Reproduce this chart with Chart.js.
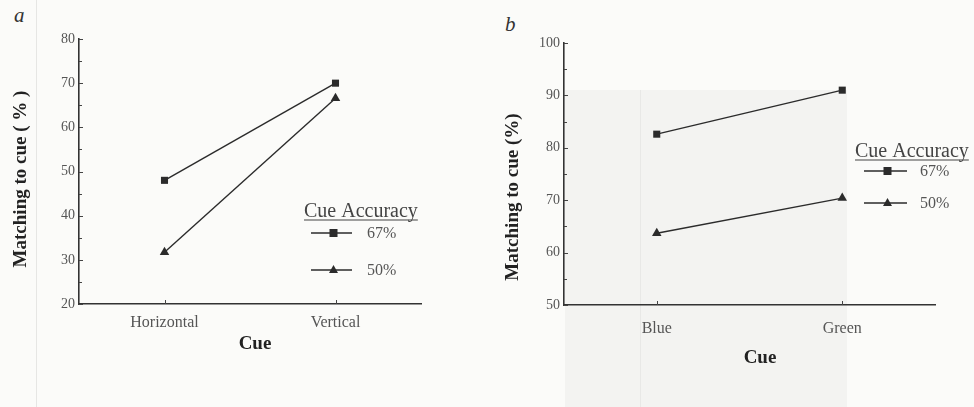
<!DOCTYPE html>
<html>
<head>
<meta charset="utf-8">
<script src="https://cdn.jsdelivr.net/npm/chart.js@4"></script>
<style>
  body { margin: 0; background: #fbfbf9; }
  #wrap { position: relative; width: 974px; height: 407px; overflow: hidden; }
  canvas { position: absolute; top: 0; }
  #ca { left: 0; }
  #cb { left: 490px; }
  .tag { position: absolute; font: italic 21px 'Liberation Serif', serif; color: #333; }
  .shade { position: absolute; background: #f3f3f1; }
</style>
</head>
<body>
<div id="wrap">
  <div class="shade" style="left:36px;top:0;width:1px;height:407px;background:#e6e6e4"></div>
  <div class="shade" style="left:565px;top:90px;width:282px;height:317px"></div>
  <div class="shade" style="left:640px;top:90px;width:1px;height:317px;background:#e8e8e6"></div>
  <div class="tag" style="left:14px;top:3px">a</div>
  <div class="tag" style="left:505px;top:12px">b</div>
  <canvas id="ca" width="480" height="407"></canvas>
  <canvas id="cb" width="484" height="407"></canvas>
</div>
<script>
// panel a
const cuesA = ['Horizontal', 'Vertical'];
const acc67A = [48, 70];
const acc50A = [31.7, 66.6];
// panel b
const cuesB = ['Blue', 'Green'];
const acc67B = [82.6, 91];
const acc50B = [63.7, 70.4];

const seriesNames = ['67%', '50%'];
const legendTitle = 'Cue Accuracy';

const ink = '#2b2b2b';
const serif = "'Liberation Serif', 'Times New Roman', serif";

// inward tick marks + axis titles placed like the printed figure
const axisDeco = {
  id: 'axisDeco',
  afterDraw(chart, args, opts) {
    const ctx = chart.ctx;
    const { x, y } = chart.scales;
    ctx.save();
    ctx.strokeStyle = '#444';
    ctx.lineWidth = 1;
    y.ticks.forEach(t => {
      const py = Math.round(y.getPixelForValue(t.value)) + 0.5;
      const len = t.value % 10 === 0 ? 4 : 3;
      ctx.beginPath();
      ctx.moveTo(y.right, py);
      ctx.lineTo(y.right + len, py);
      ctx.stroke();
    });
    x.ticks.forEach((t, i) => {
      const px = Math.round(x.getPixelForTick(i)) + 0.5;
      ctx.beginPath();
      ctx.moveTo(px, x.top);
      ctx.lineTo(px, x.top - 4);
      ctx.stroke();
    });
    ctx.fillStyle = '#222';
    ctx.font = 'bold 19px ' + serif;
    ctx.textAlign = 'center';
    ctx.textBaseline = 'middle';
    ctx.fillText('Cue', opts.xTitle[0], opts.xTitle[1]);
    ctx.translate(opts.yTitle[0], opts.yTitle[1]);
    ctx.rotate(-Math.PI / 2);
    ctx.fillText(opts.yText, 0, 0);
    ctx.restore();
  }
};

// legend drawn inside the plot, old-journal style
const cueLegend = {
  id: 'cueLegend',
  afterDraw(chart, args, opts) {
    const ctx = chart.ctx;
    ctx.save();
    ctx.fillStyle = '#444';
    ctx.font = '20px ' + serif;
    ctx.textBaseline = 'alphabetic';
    ctx.fillText(legendTitle, opts.x, opts.titleY);
    const w = ctx.measureText(legendTitle).width;
    ctx.strokeStyle = '#444';
    ctx.lineWidth = 1.2;
    ctx.beginPath();
    ctx.moveTo(opts.x, opts.titleY + 3);
    ctx.lineTo(opts.x + w, opts.titleY + 3);
    ctx.stroke();
    chart.data.datasets.forEach((ds, i) => {
      const y = opts.rows[i];
      ctx.strokeStyle = ink;
      ctx.lineWidth = 1.4;
      ctx.beginPath();
      ctx.moveTo(opts.lineX0, y);
      ctx.lineTo(opts.lineX1, y);
      ctx.stroke();
      const mx = (opts.lineX0 + opts.lineX1) / 2 + 2;
      ctx.fillStyle = ink;
      if (ds.pointStyle === 'rect') {
        ctx.fillRect(mx - 4, y - 4, 8, 8);
      } else {
        ctx.beginPath();
        ctx.moveTo(mx, y - 5);
        ctx.lineTo(mx + 4.5, y + 3);
        ctx.lineTo(mx - 4.5, y + 3);
        ctx.closePath();
        ctx.fill();
      }
      ctx.fillStyle = '#555';
      ctx.font = '16px ' + serif;
      ctx.textBaseline = 'middle';
      ctx.fillText(ds.label, opts.textX, y + 1);
      ctx.textBaseline = 'alphabetic';
    });
    ctx.restore();
  }
};

function makePanel(id, cues, s67, s50, cfg) {
  return new Chart(document.getElementById(id), {
    type: 'line',
    data: {
      labels: cues,
      datasets: [
        { label: seriesNames[0], data: s67, pointStyle: 'rect', pointRadius: 5 },
        { label: seriesNames[1], data: s50, pointStyle: 'triangle', pointRadius: 5.5 }
      ]
    },
    options: {
      responsive: false,
      animation: false,
      layout: { padding: { top: cfg.top, right: cfg.right, left: 0, bottom: 0 } },
      elements: {
        line: { borderColor: ink, borderWidth: 1.4, tension: 0 },
        point: { backgroundColor: ink, borderColor: ink, borderWidth: 0 }
      },
      plugins: {
        legend: { display: false },
        tooltip: { enabled: false },
        cueLegend: cfg.legend,
        axisDeco: { xTitle: cfg.xTitle, yTitle: cfg.yTitle, yText: cfg.yText }
      },
      scales: {
        x: {
          offset: true,
          afterFit: s => { s.height = cfg.xHeight; },
          grid: { display: true, drawOnChartArea: false, drawTicks: false, offset: false },
          border: { display: true, color: '#333', width: 1.6 },
          ticks: { color: '#555', font: { family: serif, size: 16 }, padding: cfg.xTickPad }
        },
        y: {
          min: cfg.min, max: cfg.max,
          afterFit: s => { s.width = cfg.yWidth; },
          grid: { display: true, drawOnChartArea: false, drawTicks: false },
          border: { display: true, color: '#333', width: 1.6 },
          ticks: {
            stepSize: 5, color: '#555', padding: 4,
            font: { family: serif, size: 14 },
            callback: v => (v % 10 === 0 ? v : '')
          }
        }
      }
    },
    plugins: [cueLegend, axisDeco]
  });
}

makePanel('ca', cuesA, acc67A, acc50A, {
  min: 20, max: 80, top: 39, right: 59, yWidth: 79, xHeight: 103, xTickPad: 9,
  xTitle: [255, 344], yTitle: [21, 179], yText: 'Matching to cue ( % )',
  legend: { x: 304, titleY: 217, rows: [233, 270], lineX0: 311, lineX1: 352, textX: 367 }
});

makePanel('cb', cuesB, acc67B, acc50B, {
  min: 50, max: 100, top: 43, right: 39, yWidth: 74, xHeight: 102, xTickPad: 14,
  xTitle: [270, 358], yTitle: [23, 197], yText: 'Matching to cue (%)',
  legend: { x: 365, titleY: 157, rows: [171, 203], lineX0: 374, lineX1: 417, textX: 430 }
});
</script>
</body>
</html>
